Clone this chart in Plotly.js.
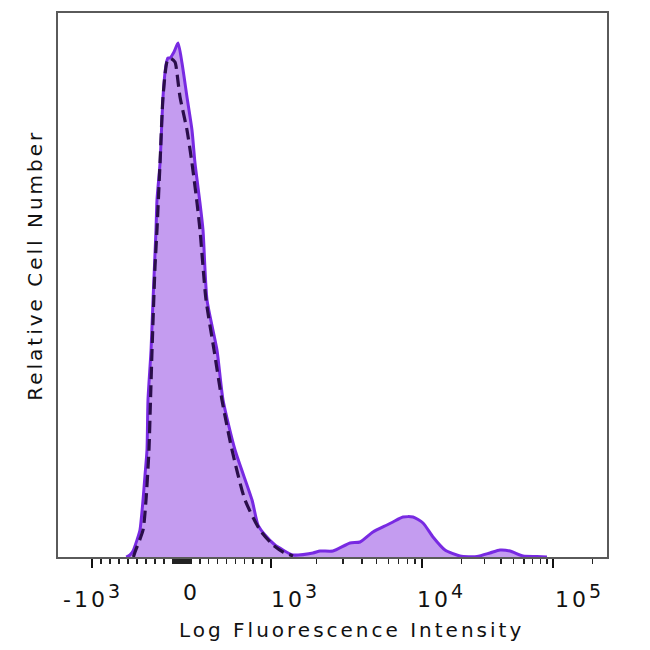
<!DOCTYPE html>
<html>
<head>
<meta charset="utf-8">
<script src="https://cdn.plot.ly/plotly-3.0.1.min.js"></script>
<style>
  html, body { margin: 0; padding: 0; background: #fff; }
  text.annotation-text { letter-spacing: 3px; }
</style>
</head>
<body>
<div id="chart" style="width:650px;height:650px;"></div>
<script>
// ---- Data (fluorescence intensity vs. relative cell count) ----
var sampleIntensity = [-620, -578, -544, -500, -467, -433, -411, -389, -378, -344, -322, -289, -278, -244, -211, -178, -156, -133, -89, -44, 0, 56, 112, 146, 202, 236, 281, 393, 461, 596, 787, 854, 933, 1063, 1201, 1399, 1897, 2112, 2572, 3338, 3887, 4733, 5860, 6420, 7480, 8720, 10177, 12133, 14980, 19500, 26270, 33000, 39400, 47000, 59000, 75400, 90000];
var sampleCount = [0, 2, 6, 17, 27, 57, 82, 107, 157, 207, 257, 327, 357, 394, 460, 492, 499, 499, 505, 514, 494, 460, 427, 394, 354, 327, 257, 207, 157, 107, 57, 32, 22, 12, 7, 2, 4, 6, 6, 14, 15, 25, 32, 35, 40, 40, 34, 20, 7, 1, 0.5, 4, 7, 6, 1, 0.5, 0];

var controlIntensity = [-540, -522, -433, -400, -367, -350, -333, -300, -278, -244, -211, -167, -133, -78, -56, -22, 56, 112, 169, 202, 270, 360, 449, 562, 708, 876, 1031, 1201, 1399];
var controlCount = [0, 5, 27, 57, 107, 157, 207, 290, 327, 394, 460, 495, 499, 495, 484, 460, 427, 394, 354, 327, 257, 207, 157, 107, 57, 27, 12, 5, 1];

var majorTickValues = [-1000, 1000, 10000, 100000];
var labelValues = [-1000, 0, 1000, 10000, 100000];
var labelTexts = ['-10<sup><span style="font-size:19px">3</span></sup>', '0',
                  '10<sup><span style="font-size:19px">3</span></sup>',
                  '10<sup><span style="font-size:19px">4</span></sup>',
                  '10<sup><span style="font-size:19px">5</span></sup>'];
var minorTickValues = [-900, -800, -700, -600, -500, -400, -300, -200, -100,
  -90, -80, -70, -60, -50, -40, -30, -20, -10, 0, 10, 20, 30, 40, 50, 60, 70, 80, 90,
  100, 200, 300, 400, 500, 600, 700, 800, 900,
  2000, 3000, 4000, 5000, 6000, 7000, 8000, 9000,
  20000, 30000, 40000, 50000, 60000, 70000, 80000, 90000, 200000];

// ---- Biexponential-like display scale (linear near zero, log above 10^3) ----
var SCALE = { zero: 182, negSlope: 0.090, posSlope: 0.089, at1e3: 271, dec3: 151, at1e4: 422, dec4: 131 };
function disp(v) {
  if (v < 0) return SCALE.zero + SCALE.negSlope * v;
  if (v <= 1000) return SCALE.zero + SCALE.posSlope * v;
  if (v <= 10000) return SCALE.at1e3 + SCALE.dec3 * Math.log10(v / 1000);
  return SCALE.at1e4 + SCALE.dec4 * Math.log10(v / 10000);
}
var labelShift = [1, 9, 24, 19, 26];

var sample = {
  x: sampleIntensity.map(disp), y: sampleCount,
  type: 'scatter', mode: 'lines',
  line: { color: 'rgb(120,42,226)', width: 3, shape: 'spline', smoothing: 0.6 },
  fill: 'tozeroy', fillcolor: 'rgb(196,156,240)',
  hoverinfo: 'skip', showlegend: false
};
var control = {
  x: controlIntensity.map(disp), y: controlCount,
  type: 'scatter', mode: 'lines',
  line: { color: 'rgb(42,14,74)', width: 3.2, dash: '12px,6px', shape: 'spline', smoothing: 0.6 },
  hoverinfo: 'skip', showlegend: false
};

var annotations = labelValues.map(function (v, i) {
  return {
    x: disp(v), xref: 'x', y: -0.038, yref: 'paper', yanchor: 'top',
    xshift: labelShift[i], text: labelTexts[i], showarrow: false,
    font: { family: 'DejaVu Sans', size: 22, color: '#111' }
  };
});
annotations.push({
  x: 0.5355, xref: 'paper', y: -0.134, yref: 'paper', yanchor: 'middle',
  text: 'Log Fluorescence Intensity', showarrow: false,
  font: { family: 'DejaVu Sans', size: 20, color: '#111' }
});
annotations.push({
  x: -0.042, xref: 'paper', y: 0.537, yref: 'paper', xanchor: 'center', yanchor: 'middle',
  textangle: -90, text: 'Relative Cell Number', showarrow: false,
  font: { family: 'DejaVu Sans', size: 20, color: '#111' }
});

var layout = {
  width: 650, height: 650,
  margin: { l: 58, r: 43, t: 13, b: 93 },
  paper_bgcolor: '#ffffff', plot_bgcolor: '#ffffff',
  xaxis: {
    range: [58, 607], showgrid: false, zeroline: false,
    showline: true, mirror: true, linecolor: '#5a5a5a', linewidth: 2,
    tickmode: 'array', tickvals: majorTickValues.map(disp),
    ticks: 'outside', ticklen: 9, tickwidth: 2.5, tickcolor: '#111',
    showticklabels: false,
    minor: { tickmode: 'array', tickvals: minorTickValues.map(disp), ticks: 'outside', ticklen: 5, tickwidth: 1.5, tickcolor: '#222', showgrid: false }
  },
  yaxis: {
    range: [0, 544], showgrid: false, zeroline: false,
    showline: true, mirror: true, linecolor: '#5a5a5a', linewidth: 2,
    ticks: '', showticklabels: false
  },
  annotations: annotations
};

Plotly.newPlot('chart', [sample, control], layout, { staticPlot: true, displayModeBar: false });
</script>
</body>
</html>
